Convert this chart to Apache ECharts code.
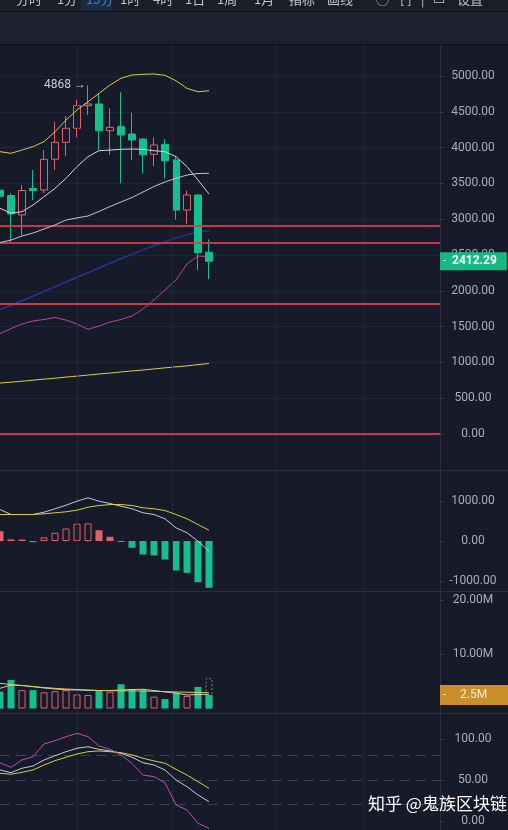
<!DOCTYPE html>
<html><head><meta charset="utf-8">
<script src="https://cdn.jsdelivr.net/npm/echarts@6/dist/echarts.min.js"></script>
<style>html,body{margin:0;padding:0;background:#161a29;}#c{width:508px;height:830px;}</style>
</head><body><div id="c"></div>
<script>
// ---- data ----
const periods = ['01','02','03','04','05','06','07','08','09','10','11','12','13','14','15','16','17','18','19','20'];
const openP  = [3405,3331,3059,3429,3408,3837,4074,4270,4585,4609,4236,4292,4190,4120,3906,4046,3827,3128,3338,2538];
const closeP = [3320,3073,3401,3401,3837,4074,4270,4585,4610,4236,4283,4176,4106,3901,4036,3817,3128,3338,2532,2412.29];
const lowP   = [3270,2682,2779,3268,3366,3687,3887,4144,4455,3966,3897,3501,3827,3641,3743,3571,2993,2933,2291,2161];
const highP  = [3460,3360,3478,3687,3966,4362,4441,4665,4868,4758,4549,4772,4487,4130,4144,4116,3873,3398,3345,2719];
const maUpper = [3943,3920,3966,4013,4083,4222,4385,4525,4641,4757,4874,4968,5014,5024,5028,5010,4934,4827,4780,4794];
const maMid   = [3152,3083,3105,3198,3314,3431,3571,3734,3873,3957,3966,3976,3980,3976,3957,3943,3873,3734,3547,3352];
const maSlow  = [2674,2709,2765,2807,2863,2919,2989,3017,3045,3108,3177,3240,3303,3380,3457,3520,3571,3617,3638,3641];
const maBlue  = [1737,1798,1861,1923,1993,2057,2123,2189,2253,2318,2384,2448,2510,2570,2630,2686,2737,2783,2825,2839];
const maPink  = [1403,1473,1536,1578,1599,1627,1592,1536,1462,1508,1564,1599,1648,1746,1872,2011,2151,2374,2486,2476];
const maLong  = [712,724,737,752,766,779,795,808,823,838,851,866,881,893,909,924,938,952,969,985];
const supportLevels = [2912, 2677, 1816, 0];
const lastPrice = [2412.29];
const macdHist = [245,40,35,-30,90,205,312,432,440,270,105,-25,-170,-337,-362,-462,-737,-795,-1030,-1170];
const macdDif  = [787,662,662,662,720,805,895,995,1080,995,937,870,805,705,662,555,330,205,-5,-255];
const macdDea  = [662,662,662,662,680,705,730,770,845,887,912,912,887,830,805,762,662,555,412,270];
const volumeM  = [3.1,5.3,3.4,3.4,3.0,3.2,3.4,2.6,2.5,3.4,3.1,4.5,3.6,3.4,2.2,1.75,2.9,2.3,4.0,2.5];
const projectedVolM = [null,null,null,null,null,null,null,null,null,null,null,null,null,null,null,null,null,null,null,5.6];
const volMaYellow = [4.67,4.44,4.26,4.04,3.89,3.74,3.61,3.52,3.43,3.33,3.3,3.28,3.24,3.24,3.19,3.13,3.07,3.02,2.96,2.93];
const volMaWhite  = [3.74,4.35,4.26,4.07,3.8,3.61,3.46,3.43,3.37,3.33,3.33,3.43,3.52,3.56,3.33,3.06,2.87,2.5,2.6,2.63];
const lastVolumeM = [2.5];
const kdjK = [62.2,58.9,64.3,67.1,74.4,79.6,84.5,88.7,90.6,87.4,85.4,82.6,77.7,71.1,68.3,62.2,50,41.8,31.7,23.5];
const kdjD = [58.2,57,59.4,62.2,68.3,73.6,77.7,81.7,84.5,85.4,84.5,83.3,80.5,76.5,73.2,70.4,63,56.1,47.9,39.9];
const kdjJ = [71,65.5,74.4,78.4,93.9,97.9,102.8,106.9,102.8,91.5,87.4,80.5,70.3,56.1,54,46.7,19.5,13.4,-2.8,-8.9];
const kdjLevels = [80, 50, 20];
const priceTicks = [0,500,1000,1500,2000,2500,3000,3500,4000,4500,5000];
const macdTicks = [-1000, 0, 1000];
const volTicks = [10, 20];
const kdjTicks = [0, 50, 100];
const timeGridIdx = [7, 15.7, 25.1, 33];
const toolbarItems = ['分时','1分','15分','1时','4时','1日','1周','1月','指标','画线','◯','[ ]','|','▭','设置'];

// ---- styles ----
const RED = '#e2606d', GREEN = '#15bf8d', AXIS = '#2b3043', LBL = '#a8adbe';
const FONT = 'Roboto, "Noto Sans", sans-serif';
const up = openP.map((o,i)=>closeP[i] >= o);
const CLEAR = 'rgba(0,0,0,0)';

const chart = echarts.init(document.getElementById('c'), null, {renderer:'canvas'});
const grids = [
  {left:-1, right:68, top:40.2, height:429.6},
  {left:-1, right:68, top:470, height:122},
  {left:-1, right:68, top:592, height:121},
  {left:-1, right:68, top:713, height:117},
  {left:-1, right:68, top:44, bottom:0}
];
function xCat(i){return {type:'category', gridIndex:i, data:periods, boundaryGap:false, max:40,
  axisLine:{show:false}, axisTick:{show:false}, axisLabel:{show:false}, splitLine:{show:false}};}
const lblBase = {color:LBL, fontSize:12, fontFamily:FONT, align:'center', margin:33, padding:[4,0,0,0]};
function yAx(i, extra){return Object.assign({type:'value', gridIndex:i, position:'right', scale:false,
  axisLine:{show:true, lineStyle:{color:AXIS}},
  axisTick:{show:true, length:4, lineStyle:{color:'#3a3f54'}},
  axisLabel:lblBase,
  splitLine:{show:false}}, extra);}
const fmt2 = v => v.toFixed(2);
const pS = new Set(priceTicks);

function lineS(name, data, color, xi, yi, width, z){
  return {name, type:'line', data, xAxisIndex:xi, yAxisIndex:yi, showSymbol:false, symbol:'none',
    lineStyle:{color, width: width||1}, z: z||3, silent:true, animation:false};
}

const option = {
  backgroundColor:'#161a29',
  animation:false,
  grid: grids,
  xAxis: [xCat(0), xCat(1), xCat(2), xCat(3),
    {type:'value', gridIndex:4, min:0, max:40, show:false}],
  yAxis: [
    yAx(0, {min:-500, max:5500, interval:500,
      axisLabel:Object.assign({}, lblBase, {formatter: v => pS.has(v) ? fmt2(v) : ''}),
      splitLine:{show:true, lineStyle:{color:'#20253a'}}}),
    yAx(1, {min:-1275, max:1775,
      axisLabel:Object.assign({}, lblBase, {customValues:macdTicks, formatter: fmt2}),
      axisTick:{show:true, length:4, customValues:macdTicks, lineStyle:{color:'#3a3f54'}}}),
    yAx(2, {min:-0.83, max:21.57,
      axisLabel:Object.assign({}, lblBase, {customValues:volTicks, formatter: v => v.toFixed(2)+'M'}),
      axisTick:{show:true, length:4, customValues:volTicks, lineStyle:{color:'#3a3f54'}}}),
    yAx(3, {min:-11, max:131.7,
      axisLabel:Object.assign({}, lblBase, {customValues:kdjTicks, formatter: fmt2}),
      axisTick:{show:true, length:4, customValues:kdjTicks, lineStyle:{color:'#3a3f54'}}}),
    {type:'value', gridIndex:4, min:0, max:1, show:false}
  ],
  series: [
    // vertical time grid lines
    {type:'line', xAxisIndex:4, yAxisIndex:4, data:[], z:1, silent:true,
      markLine:{silent:true, symbol:['none','none'], label:{show:false},
        lineStyle:{color:'#232839', width:1, type:'solid'},
        data: timeGridIdx.map(v=>({xAxis:v}))}},
    // price overlays
    lineS('maLong', maLong, '#d8cf3c', 0, 0, 1),
    lineS('maPink', maPink, '#b8479f', 0, 0, 1),
    lineS('maBlue', maBlue, '#28338e', 0, 0, 1.6),
    {type:'candlestick', name:'K', xAxisIndex:0, yAxisIndex:0, z:4, barWidth:7, silent:true,
      data: periods.map((p,i)=>[openP[i], closeP[i], lowP[i], highP[i]]),
      itemStyle:{color:CLEAR, color0:GREEN, borderColor:RED, borderColor0:GREEN, borderWidth:1},
      markPoint:{symbol:'circle', symbolSize:0, silent:true,
        label:{show:true, position:'left', distance:2, color:'#c6cbdd', fontSize:12, fontFamily:FONT,
          formatter: p => Math.round(p.value) + ' →'},
        data:[{type:'max', valueDim:'highest'}]},
      markLine:{silent:true, symbol:['none','none'],
        label:{show:false},
        lineStyle:{color:'rgba(226,58,74,0.88)', width:2, type:'solid'},
        data: supportLevels.map(v=>({yAxis:v}))}},
    // price tag on the last price
    {type:'line', name:'lastTag', xAxisIndex:0, yAxisIndex:0, data:[], z:20, silent:true,
      markLine:{silent:true, symbol:['none','none'],
        lineStyle:{color:CLEAR, width:0},
        data: lastPrice.map(v=>({yAxis:v,
          label:{show:true, position:'end', distance:0,
            backgroundColor:'#14b984', padding:[2,10,2,3], lineHeight:14,
            formatter: '{d|-}{v|' + v.toFixed(2) + '}',
            rich:{d:{color:'#e8fff6', width:9, fontSize:11, fontFamily:FONT},
                  v:{color:'#ffffff', fontSize:12, fontWeight:'bold', fontFamily:FONT}}}}))}},
    lineS('maSlow', maSlow, '#c2c4d3', 0, 0, 1, 5),
    lineS('maMid', maMid, '#d2d4e0', 0, 0, 1, 5),
    lineS('maUpper', maUpper, '#d9cf3a', 0, 0, 1, 5),
    // MACD
    {type:'bar', name:'MACD', xAxisIndex:1, yAxisIndex:1, barWidth:7, silent:true, z:3,
      data: macdHist.map((v,i)=>{
        const rising = i>0 && v > macdHist[i-1];
        const col = v >= 0 ? RED : GREEN;
        return {value:v, itemStyle: rising ? {color:CLEAR, borderColor:col, borderWidth:1} : {color:col}};
      })},
    lineS('DIF', macdDif, '#c6c9dd', 1, 1, 1, 5),
    lineS('DEA', macdDea, '#d6cd3e', 1, 1, 1, 5),
    // Volume
    {type:'bar', name:'proj', xAxisIndex:2, yAxisIndex:2, barWidth:7, barGap:'-100%', silent:true, z:2,
      data: projectedVolM,
      itemStyle:{color:CLEAR, borderColor:'#7d8296', borderWidth:1, borderType:[2,2]}},
    {type:'bar', name:'VOL', xAxisIndex:2, yAxisIndex:2, barWidth:7, barGap:'-100%', silent:true, z:3,
      data: volumeM.map((v,i)=>({value:v, itemStyle: up[i] ? {color:CLEAR, borderColor:RED, borderWidth:1} : {color:GREEN}}))},
    {type:'line', name:'volTag', xAxisIndex:2, yAxisIndex:2, data:[], z:20, silent:true,
      markLine:{silent:true, symbol:['none','none'], lineStyle:{color:CLEAR, width:0},
        data: lastVolumeM.map(v=>({yAxis:v,
          label:{show:true, position:'end', distance:0,
            backgroundColor:'#c98f2b', padding:[3,21,3,3], lineHeight:14,
            formatter:'{d|-}{v|' + v + 'M}',
            rich:{d:{color:'#fff3d8', width:17, fontSize:11, fontFamily:FONT},
                  v:{color:'#fdf0d2', fontSize:12, fontFamily:FONT}}}}))}},
    lineS('volMaW', volMaWhite, '#c9cbd8', 2, 2, 1, 5),
    lineS('volMaY', volMaYellow, '#d8cf3c', 2, 2, 1, 5),
    // KDJ
    {type:'line', name:'K', data:kdjK, xAxisIndex:3, yAxisIndex:3, showSymbol:false, symbol:'none', z:5, silent:true,
      lineStyle:{color:'#c7c9da', width:1},
      markLine:{silent:true, symbol:['none','none'], label:{show:false},
        lineStyle:{color:'#3c4156', width:1, type:[10,6]},
        data: kdjLevels.map(v=>({yAxis:v}))}},
    lineS('D', kdjD, '#d8cf3c', 3, 3, 1, 5),
    lineS('J', kdjJ, '#c24fb0', 3, 3, 1, 5)
  ],
  graphic: [
    {type:'rect', z:100, shape:{x:0, y:0, width:508, height:44}, style:{fill:'#1d202d'}},
    {type:'rect', z:100, shape:{x:0, y:0, width:508, height:12}, style:{fill:'#1b1e28'}},
    {type:'rect', z:101, shape:{x:81, y:0, width:31, height:11}, style:{fill:'#1a2a45'}},
    {type:'line', z:101, shape:{x1:0, y1:11.5, x2:508, y2:11.5}, style:{stroke:'#0f1118', lineWidth:1}},
    {type:'line', z:101, shape:{x1:0, y1:44.5, x2:508, y2:44.5}, style:{stroke:'#10121a', lineWidth:1}},
    {type:'group', z:102, children: toolbarItems.map((t,i)=>({type:'text', z:102,
      x:[16,57,86,120,153,185,217,254,289,327,376,400,421,433,457][i], y:-7,
      style:{text:t, fill: i===2 ? '#3e7fe0' : '#c2c5cf', font:'13px "Noto Sans CJK SC", sans-serif'}}))},
    {type:'line', z:60, shape:{x1:0, y1:470.5, x2:508, y2:470.5}, style:{stroke:AXIS, lineWidth:1}},
    {type:'line', z:60, shape:{x1:0, y1:591.5, x2:508, y2:591.5}, style:{stroke:AXIS, lineWidth:1}},
    {type:'line', z:60, shape:{x1:0, y1:713.5, x2:508, y2:713.5}, style:{stroke:AXIS, lineWidth:1}},
    {type:'text', z:200, x:368, y:795,
      style:{text:'知乎 @鬼族区块链', fill:'#ffffff', font:'17px "Noto Sans CJK SC", sans-serif',
        shadowBlur:3, shadowColor:'rgba(0,0,0,0.7)'}}
  ]
};
chart.setOption(option);
</script>
</body></html>
